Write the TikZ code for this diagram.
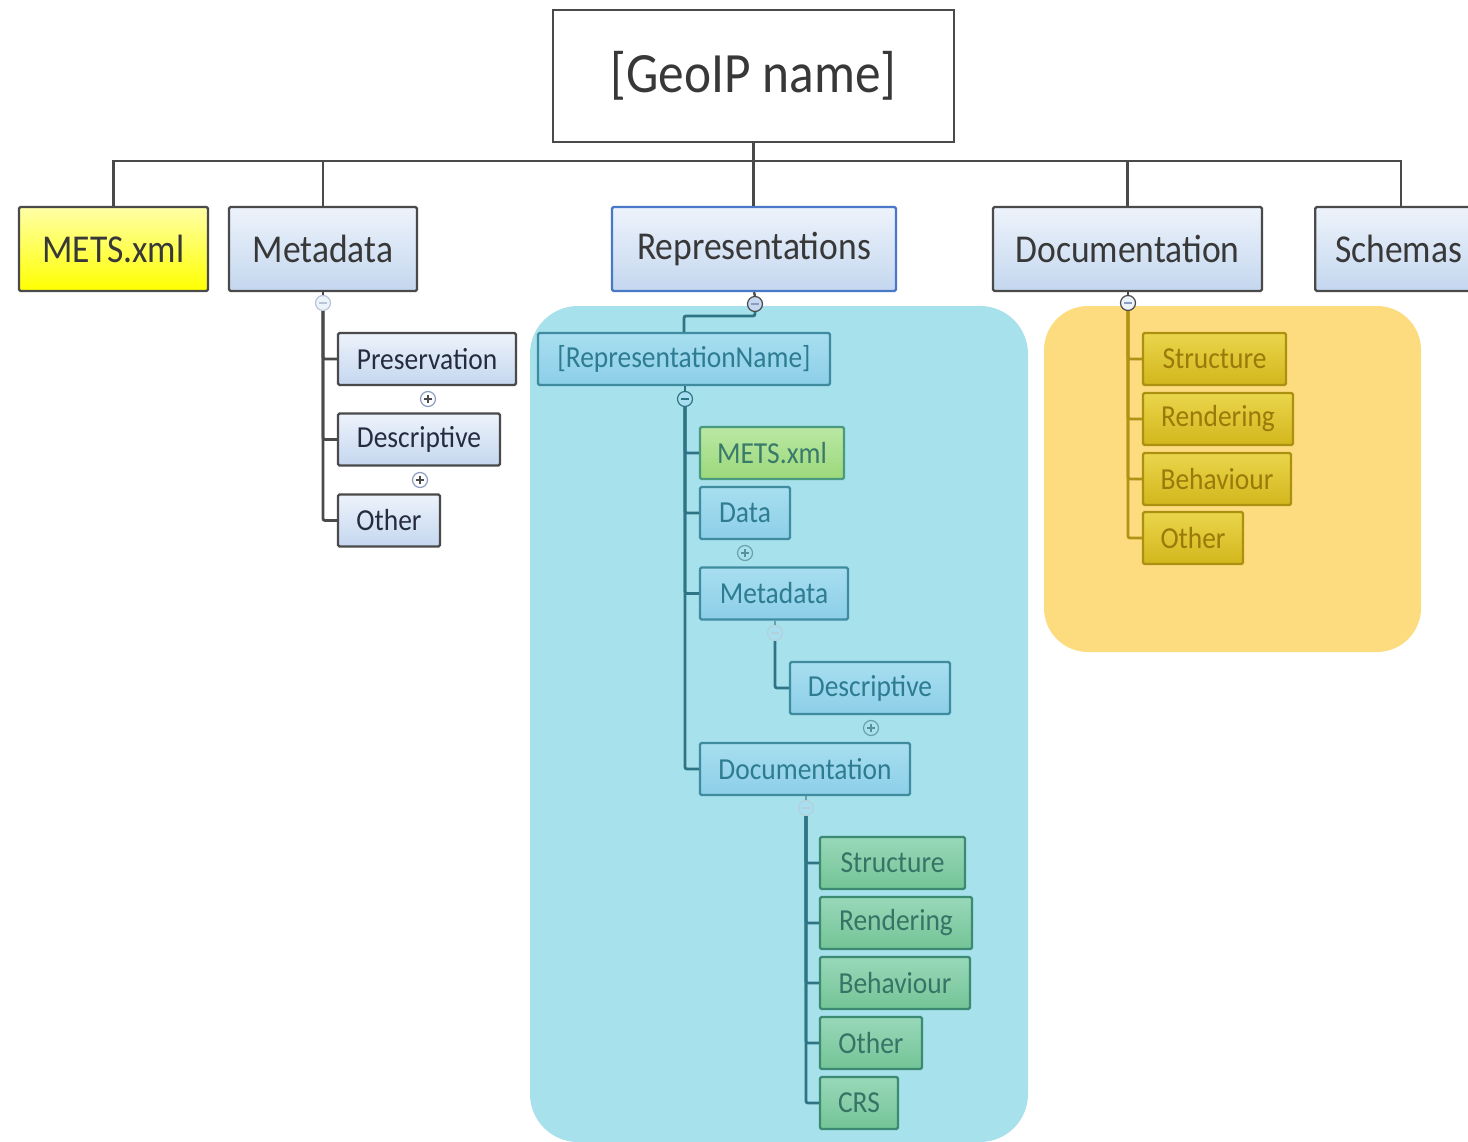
\documentclass[tikz,border=0pt]{standalone}
\usepackage{fontspec}
\setmainfont{Carlito}[FakeStretch=0.9]
\usetikzlibrary{calc}
\definecolor{bluetop}{HTML}{EDF3FB}
\definecolor{bluebot}{HTML}{C4D7EF}
\definecolor{boxgray}{HTML}{4A4A4A}
\definecolor{txtgray}{HTML}{383838}
\definecolor{txtnavy}{HTML}{262C40}
\definecolor{repblue}{HTML}{4A78C8}
\definecolor{yeltop}{HTML}{FFFFA8}
\definecolor{yelbot}{HTML}{FFFF00}
\definecolor{cyanpanel}{HTML}{A7E1EC}
\definecolor{orangepanel}{HTML}{FDDC7F}
\definecolor{cyantop}{HTML}{A8DEF0}
\definecolor{cyanbot}{HTML}{8CCFE8}
\definecolor{cyandraw}{HTML}{3F8CA0}
\definecolor{cyantxt}{HTML}{2E7C92}
\definecolor{cyanline}{HTML}{2F7484}
\definecolor{lgtop}{HTML}{BAE8A4}
\definecolor{lgbot}{HTML}{9CD87A}
\definecolor{lgdraw}{HTML}{4A9A80}
\definecolor{lgtxt}{HTML}{3A7A6A}
\definecolor{grtop}{HTML}{98D8BA}
\definecolor{grbot}{HTML}{74C496}
\definecolor{grdraw}{HTML}{3C8A72}
\definecolor{grtxt}{HTML}{367466}
\definecolor{gdtop}{HTML}{EAD64C}
\definecolor{gdbot}{HTML}{D2B61C}
\definecolor{gddraw}{HTML}{AC9010}
\definecolor{gdtxt}{HTML}{9A7A08}
\definecolor{gdline}{HTML}{B09214}
\definecolor{circblue}{HTML}{8C9CC0}
\begin{document}
\begin{tikzpicture}[x=1pt,y=-1pt,
  bx/.style={draw, line width=2.4pt, rounded corners=1.5pt, inner sep=0pt, minimum height=52pt},
  bigbx/.style={bx, minimum height=84pt},
  bluebx/.style={top color=bluetop, bottom color=bluebot, draw=boxgray, text=txtgray},
  subbluebx/.style={top color=bluetop, bottom color=bluebot, draw=boxgray, text=txtnavy},
  yelbx/.style={top color=yeltop, bottom color=yelbot, draw=boxgray, text=txtgray},
  cyanbx/.style={top color=cyantop, bottom color=cyanbot, draw=cyandraw, text=cyantxt},
  lgbx/.style={top color=lgtop, bottom color=lgbot, draw=lgdraw, text=lgtxt},
  grbx/.style={top color=grtop, bottom color=grbot, draw=grdraw, text=grtxt},
  gdbx/.style={top color=gdtop, bottom color=gdbot, draw=gddraw, text=gdtxt},
  fa/.style={font=\fontsize{57}{62}\selectfont},
  fb/.style={font=\fontsize{39.5}{44}\selectfont},
  fc/.style={font=\fontsize{30.5}{34}\selectfont},
  circ/.style={circle, draw=#1, line width=1.2pt, minimum size=15pt, inner sep=0pt},
  minus/.style={path picture={\draw[#1, line width=1.2pt] ([xshift=-4pt]path picture bounding box.center) -- ([xshift=4pt]path picture bounding box.center);}},
  plus/.style={path picture={\draw[#1, line width=1.2pt] ([xshift=-4pt]path picture bounding box.center) -- ([xshift=4pt]path picture bounding box.center) ([yshift=-4pt]path picture bounding box.center) -- ([yshift=4pt]path picture bounding box.center);}},
  topline/.style={draw=boxgray, line width=2.4pt},
  mdline/.style={draw=boxgray, line width=2.8pt, rounded corners=2pt},
  cyline/.style={draw=cyanline, line width=2.8pt, rounded corners=2pt},
  gdl/.style={draw=gdline, line width=2.8pt, rounded corners=2pt}
]
\useasboundingbox (0,0) rectangle (1468,1142);
\fill[white] (0,0) rectangle (1468,1142);

% panels
\fill[cyanpanel, rounded corners=48pt] (530,306) rectangle (1028,1142);
\fill[orangepanel, rounded corners=44pt] (1044,306) rectangle (1421,652);

% root and level 1
\node[draw=boxgray, line width=2.4pt, fill=white, text=txtgray, fa, minimum width=401pt, minimum height=132pt, inner sep=0pt] (root) at (753.5,76) {[GeoIP name]};
\node[bigbx, yelbx, fb, minimum width=189pt] (mets) at (113.5,249) {METS.xml};
\node[bigbx, bluebx, fb, minimum width=188pt] (md) at (323,249) {Metadata};
\node[bigbx, bluebx, draw=repblue, fb, minimum width=284pt] (repr) at (754,249) {Representations};
\node[bigbx, bluebx, fb, minimum width=269pt] (doc) at (1127.5,249) {Documentation};
\node[bigbx, bluebx, fb, minimum width=169pt, anchor=west] (sch) at (1314,249) {\hspace*{-2pt}Schemas};

\coordinate (bus) at (753.5,161);
\draw[topline] (root.south) -- (bus);
\draw[topline] (bus) -- (repr.north -| bus);
\draw[topline] (mets.north) |- (bus) -| (1401,207);
\draw[topline] (md.north) -- (md.north |- bus);
\draw[topline] (doc.north) -- (doc.north |- bus);

% Metadata subtree
\node[circ=circblue!60, fill=bluetop, minus=circblue!60] (mdc) at (323,303) {};
\node[bx, subbluebx, fc, minimum width=178pt] (pres) at (427,359) {Preservation};
\node[bx, subbluebx, fc, minimum width=162pt] (desc) at (419,439.5) {Descriptive};
\node[bx, subbluebx, fc, minimum width=102pt] (moth) at (389,520.5) {Other};
\node[circ=circblue, fill=white, plus=boxgray] (presc) at (428,399) {};
\node[circ=circblue, fill=white, plus=boxgray] (descc) at (420,480) {};
\draw[mdline] (md.south) -- (mdc.north);
\draw[mdline] (mdc.south) |- (pres.west);
\draw[mdline] (mdc.south) |- (desc.west);
\draw[mdline] (mdc.south) |- (moth.west);

% Representations subtree
\node[circ=boxgray, fill=bluebot, minus=circblue] (repc) at (755,304) {};
\draw[topline] (repr.south) -- (repc.north);
\node[bx, cyanbx, fc, minimum width=292pt] (rname) at (684,359) {[RepresentationName]};
\draw[cyline] (repc.south) -- (755,316) -| (rname.north);
\node[circ=cyanline, fill=cyantop, minus=cyanline] (rnc) at (685,399) {};
\node[bx, lgbx, fc, minimum width=144pt] (rmets) at (772,453) {METS.xml};
\node[bx, cyanbx, fc, minimum width=90pt] (rdata) at (745,513) {Data};
\node[bx, cyanbx, fc, minimum width=148pt] (rmd) at (774,593.5) {Metadata};
\node[bx, cyanbx, fc, minimum width=160pt] (rdesc) at (870,688) {Descriptive};
\node[bx, cyanbx, fc, minimum width=210pt] (rdoc) at (805,769) {Documentation};
\node[circ=cyanline!70, fill=cyanpanel, plus=cyanline!80] (rdatac) at (745,553) {};
\node[circ=cyandraw!40, fill=cyantop, minus=cyandraw!40] (rmdc) at (775,633) {};
\node[circ=cyanline!70, fill=cyanpanel, plus=cyanline!80] (rdescc) at (871,728) {};
\node[circ=cyandraw!40, fill=cyantop, minus=cyandraw!40] (rdocc) at (806,808) {};
\draw[cyline] (rname.south -| rnc) -- (rnc.north);
\draw[cyline] (rnc.south) |- (rmets.west);
\draw[cyline] (rnc.south) |- (rdata.west);
\draw[cyline] (rnc.south) |- (rmd.west);
\draw[cyline] (rnc.south) |- (rdoc.west);
\draw[cyline, draw=cyanline!70] (rmd.south -| rmdc) -- (rmdc.north);
\draw[cyline] (rmdc.south) |- (rdesc.west);
\draw[cyline, draw=cyanline!70] (rdoc.south -| rdocc) -- (rdocc.north);
\node[bx, grbx, fc, minimum width=145pt] (gs) at (892.5,863) {Structure};
\node[bx, grbx, fc, minimum width=152pt] (gr) at (896,923) {Rendering};
\node[bx, grbx, fc, minimum width=150pt] (gb) at (895,983) {Behaviour};
\node[bx, grbx, fc, minimum width=102pt] (go) at (871,1043) {Other};
\node[bx, grbx, fc, minimum width=78pt] (gc) at (859,1103) {CRS};
\foreach \n in {gs,gr,gb,go,gc} \draw[cyline] (rdocc.south) |- (\n.west);

% Documentation subtree
\node[circ=boxgray, fill=bluetop, minus=circblue] (docc) at (1128,303) {};
\draw[topline] (doc.south -| docc) -- (docc.north);
\node[bx, gdbx, fc, minimum width=143pt] (ds) at (1214.5,359) {Structure};
\node[bx, gdbx, fc, minimum width=150pt] (dr) at (1218,419) {Rendering};
\node[bx, gdbx, fc, minimum width=148pt] (db) at (1217,479) {Behaviour};
\node[bx, gdbx, fc, minimum width=100pt] (do) at (1193,538) {Other};
\foreach \n in {ds,dr,db,do} \draw[gdl] (docc.south) |- (\n.west);
\end{tikzpicture}
\end{document}
